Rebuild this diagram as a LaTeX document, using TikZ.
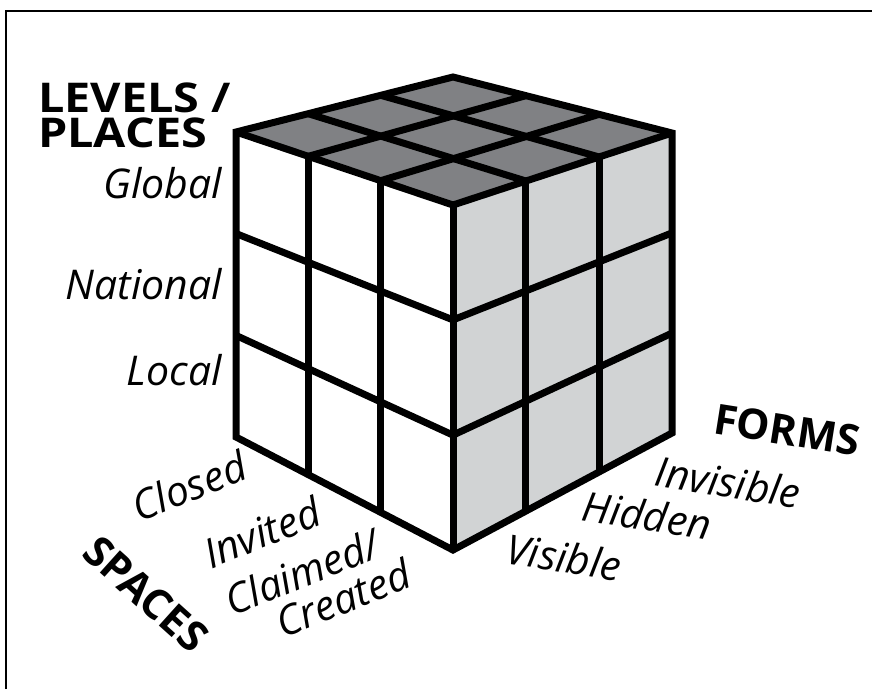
\documentclass[tikz,border=0pt]{standalone}
\usepackage{fontspec}
\setmainfont{Open Sans}
\newfontfamily\widesans{Open Sans}[FakeStretch=1.14]
\usetikzlibrary{calc}

\definecolor{topgray}{HTML}{808184}
\definecolor{sidegray}{HTML}{D1D3D4}

\begin{document}
\begin{tikzpicture}[x=1pt,y=-1pt,
    edge/.style={line width=7pt},
    frame/.style={line width=1.5pt},
    axis/.style={font=\fontsize{42}{42}\selectfont\bfseries, inner sep=0pt},
    tick/.style={font=\fontsize{41}{41}\selectfont\itshape, inner sep=0pt}
  ]
  \useasboundingbox (0,0) rectangle (872,689);
  \draw[frame] (6,689) -- (6,11) -- (872,11);

  % corners of the cube
  \coordinate (B)  at (453,77);
  \coordinate (L1) at (236,132);
  \coordinate (R1) at (672,133);
  \coordinate (F1) at (453,205);
  \coordinate (L0) at (236,437);
  \coordinate (R0) at (672,433);
  \coordinate (F0) at (453,550);

  % faces
  \fill[white] (L1) -- (F1) -- (F0) -- (L0) -- cycle;
  \fill[sidegray] (F1) -- (R1) -- (R0) -- (F0) -- cycle;
  \fill[topgray] (L1) -- (B) -- (R1) -- (F1) -- cycle;

  % grid
  \foreach \t in {0.333,0.667} {
    \draw[edge] ($(L1)!\t!(F1)$) -- ($(L0)!\t!(F0)$);
    \draw[edge] ($(F1)!\t!(R1)$) -- ($(F0)!\t!(R0)$);
    \draw[edge] ($(L1)!\t!(L0)$) -- ($(F1)!\t!(F0)$);
    \draw[edge] ($(F1)!\t!(F0)$) -- ($(R1)!\t!(R0)$);
    \draw[edge] ($(L1)!\t!(F1)$) -- ($(B)!\t!(R1)$);
    \draw[edge] ($(L1)!\t!(B)$) -- ($(F1)!\t!(R1)$);
  }
  \draw[edge] (L0) -- (L1) -- (B) -- (R1) -- (R0) -- (F0) -- cycle;
  \draw[edge] (L1) -- (F1) -- (R1);
  \draw[edge] (F1) -- (F0);

  % levels
  \node[axis, font=\fontsize{41}{41}\selectfont\widesans\bfseries, anchor=base west]
    (levels) at (38,112) {LEVELS /};
  \node[axis, font=\fontsize{41}{41}\selectfont\widesans\bfseries, anchor=base west]
    (places) at (38,147) {PLACES};
  \node[tick, anchor=east] (global) at (222,183) {Global};
  \node[tick, anchor=east] (national) at (222,284) {National};
  \node[tick, anchor=east] (local) at (222,370) {Local};

  % spaces
  \node[axis, rotate=-42] (spaces) at (146,594) {SPACES};
  \node[tick, rotate=22] (closed) at (189,486) {Closed};
  \node[tick, rotate=22] (invited) at (262,532) {Invited};
  \node[tick, rotate=22] (claimed) at (302,572) {Claimed/};
  \node[tick, rotate=22] (created) at (343,598) {Created};

  % forms
  \node[axis, rotate=-9] (forms) at (787,430) {FORMS};
  \node[tick, rotate=-9] (invisible) at (728,482) {Invisible};
  \node[tick, rotate=-9] (hidden) at (647,515) {Hidden};
  \node[tick, rotate=-9] (visible) at (564,557) {Visible};
\end{tikzpicture}
\end{document}
